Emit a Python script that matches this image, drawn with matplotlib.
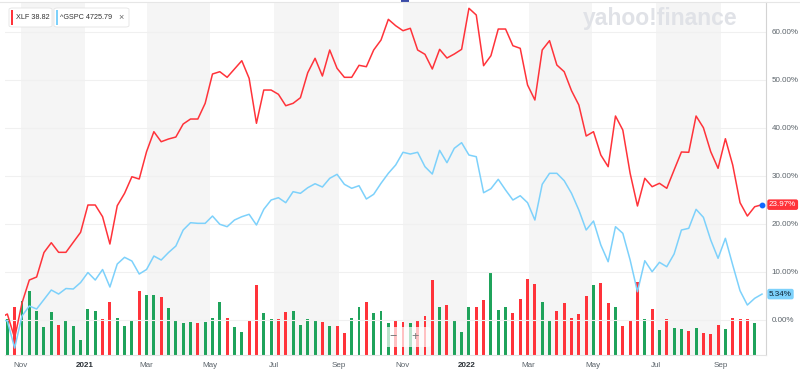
import matplotlib.pyplot as plt
import pandas as pd
from matplotlib.patches import Rectangle, FancyBboxPatch
from matplotlib.lines import Line2D

plt.rcParams['font.family'] = ['Liberation Sans', 'DejaVu Sans']

# weekly data, % change since start
dates = pd.date_range('2020-10-12', periods=105, freq='7D')

xlf_pct = [0.35, 1.19, -3.81, 3.48, 8.27, 8.90, 14.0, 16.04, 14.04, 14.04,
           16.13, 18.21, 23.90, 23.90, 21.46, 15.77, 23.75, 26.33, 29.79, 29.31,
           35.0, 39.17, 37.08, 37.65, 38.06, 40.77, 41.81, 41.81, 45.08, 51.19,
           51.67, 50.5, 52.23, 53.96, 50.29, 40.92, 47.85, 47.85, 46.96, 44.58,
           45.08, 46.25, 51.46, 54.46, 50.77, 56.19, 52.38, 50.5, 50.5, 53.0,
           52.71, 56.19, 58.27, 62.58, 61.25, 60.21, 60.71, 56.19, 55.29, 52.23,
           56.33, 54.52, 55.35, 56.33, 64.88, 63.48, 52.92, 55.0, 60.56, 60.56,
           57.08, 56.54, 48.9, 45.77, 56.19, 58.13, 53.06, 51.67, 47.71, 44.73,
           38.27, 39.17, 34.31, 31.88, 42.44, 39.52, 30.5, 23.69, 29.46, 27.71,
           28.42, 27.38, 31.19, 34.94, 34.88, 42.44, 40.0, 35.0, 31.54, 37.71,
           32.23, 24.38, 21.6, 23.54, 23.97]

gspc_pct = [0.15, -0.27, -5.9, 0.77, 2.85, 2.23, 4.21, 6.19, 5.35, 6.5,
            6.4, 7.75, 9.83, 8.27, 10.46, 6.81, 11.6, 13.0, 12.23, 9.52,
            10.46, 13.27, 12.44, 14.0, 15.35, 18.69, 20.21, 20.08, 20.08, 21.6,
            19.88, 19.38, 20.77, 21.46, 21.96, 19.73, 23.0, 24.94, 25.42, 24.38,
            26.67, 26.33, 27.5, 28.33, 27.65, 29.46, 30.29, 28.21, 27.38, 27.92,
            25.15, 26.13, 28.42, 30.5, 32.23, 34.88, 34.52, 34.88, 31.88, 30.35,
            35.29, 32.71, 35.71, 36.88, 34.31, 33.96, 26.46, 27.29, 29.25, 27.02,
            24.94, 25.83, 24.38, 20.77, 28.21, 30.5, 30.5, 28.96, 26.33, 22.85,
            18.69, 20.56, 15.56, 12.08, 19.38, 18.0, 12.44, 5.83, 12.29, 10.0,
            11.96, 11.04, 13.69, 18.69, 19.04, 23.0, 21.33, 16.6, 12.79, 16.96,
            11.4, 6.04, 3.06, 4.46, 5.34]

# XLF weekly volume (M shares), up/down week
xlf_volume = [0, 216, 288, 324, 384, 264, 168, 258, 180, 210,
              174, 90, 276, 264, 216, 318, 222, 174, 210, 384,
              360, 360, 348, 282, 210, 192, 198, 192, 198, 222,
              318, 222, 168, 138, 204, 420, 252, 216, 216, 258,
              264, 180, 216, 204, 198, 174, 174, 132, 222, 288,
              318, 252, 264, 192, 204, 198, 192, 210, 234, 450,
              288, 300, 210, 138, 288, 288, 330, 492, 270, 288,
              252, 336, 456, 426, 318, 210, 264, 312, 222, 246,
              354, 420, 432, 312, 288, 174, 204, 438, 216, 276,
              150, 216, 162, 156, 144, 162, 132, 126, 180, 156,
              222, 216, 216, 192, 0]
up_down = ('ggrgggggrg' 'ggggrrgggr' 'ggrggggrgg' 'grggrrggrr' 'ggggrgrrgg'
           'rgggrrgrrr' 'grgggrrggg' 'rrrrggrrrr' 'rgrrgrrrgr' 'grggrgrrrg' 'rrrgg')

tick_dates = ['2020-11-01', '2021-01-01', '2021-03-01', '2021-05-01', '2021-07-01',
              '2021-09-01', '2021-11-01', '2022-01-01', '2022-03-01', '2022-05-01',
              '2022-07-01', '2022-09-01']
tick_labels = ['Nov', '2021', 'Mar', 'May', 'Jul', 'Sep', 'Nov', '2022', 'Mar', 'May', 'Jul', 'Sep']
band_starts = ['2020-11-01', '2021-03-01', '2021-07-01', '2021-11-01', '2022-03-01', '2022-07-01']
band_ends = ['2021-01-01', '2021-05-01', '2021-09-01', '2022-01-01', '2022-05-01', '2022-09-01']

RED = '#ff333a'
BLUE = '#7dd1fb'
GREEN = '#1fa35b'

W, H = 800, 374
fig = plt.figure(figsize=(8, 3.74), dpi=100)
rect = [4.5 / W, (H - 355) / H, (766 - 4.5) / W, (355 - 2) / H]

# bottom axes: bands + volume
axv = fig.add_axes(rect)
# top axes: price lines
ax = fig.add_axes(rect, sharex=axv)
ax.patch.set_visible(False)

x0 = dates[0] + pd.Timedelta(days=4.3)
x1 = dates[0] + pd.Timedelta(days=731.8)
axv.set_xlim(x0, x1)

for s, e in zip(band_starts, band_ends):
    axv.axvspan(pd.Timestamp(s), pd.Timestamp(e), color='#f5f5f5', lw=0, zorder=0)

bar_colors = [GREEN if c == 'g' else RED for c in up_down]
axv.bar(dates, xlf_volume, width=2.8, color=bar_colors, zorder=2)
axv.set_ylim(0, 353 * 6)
axv.axis('off')

ax.plot(dates, gspc_pct, color=BLUE, lw=1.1, zorder=3)
ax.plot(dates, xlf_pct, color=RED, lw=1.1, zorder=3)
ax.plot(dates[-1], xlf_pct[-1], 'o', ms=3.2, color='#1167ff', zorder=4, clip_on=False)
ax.set_ylim(-7.35, 66.19)

ax.grid(axis='y', color='#f0f0f0', lw=0.8)
ax.set_axisbelow(True)
ax.yaxis.tick_right()
ax.set_yticks(range(0, 70, 10))
ax.set_yticklabels([f'{v:.2f}%' for v in range(0, 70, 10)])
ax.set_xticks(pd.to_datetime(tick_dates))
ax.set_xticklabels(tick_labels)
ax.tick_params(axis='both', length=0, labelsize=5.8, colors='#5b636a')
ax.tick_params(axis='x', pad=5)
ax.tick_params(axis='y', pad=4)
for lbl in ax.get_xticklabels():
    if lbl.get_text().isdigit():
        lbl.set_fontweight('bold')
        lbl.set_color('#2b3137')

ax.spines['left'].set_visible(False)
ax.spines['right'].set_color('#d3d3d3')
ax.spines['bottom'].set_color('#e3e3e3')
ax.spines['top'].set_visible(False)
fig.add_artist(Line2D([0, 1], [1 - 2 / H, 1 - 2 / H], color='#e6e6e6', lw=0.8))

# value tags on right axis
ax.annotate(f'{xlf_pct[-1]:.2f}%', xy=(1, xlf_pct[-1]), xycoords=('axes fraction', 'data'),
            xytext=(2.2, 0), textcoords='offset points', ha='left', va='center',
            fontsize=5.8, color='white', annotation_clip=False,
            bbox=dict(boxstyle='round,pad=0.22,rounding_size=0.25', fc=RED, ec='none'))
ax.annotate(f'{gspc_pct[-1]:.2f}%', xy=(1, gspc_pct[-1]), xycoords=('axes fraction', 'data'),
            xytext=(2.2, 0), textcoords='offset points', ha='left', va='center',
            fontsize=5.8, color='#0d2233', annotation_clip=False,
            bbox=dict(boxstyle='round,pad=0.22,rounding_size=0.25', fc=BLUE, ec='none'))


def px(x, y):
    return x / W, 1 - y / H


# legend chips
for (bx, bw, col, label) in [(9, 43, RED, 'XLF 38.82'), (54, 75, BLUE, '^GSPC 4725.79')]:
    fig.patches.append(FancyBboxPatch(px(bx, 27), bw / W, 19 / H, boxstyle='round,pad=0,rounding_size=0.004',
                                      transform=fig.transFigure, fc='white', ec='#e4e4e4', lw=0.6))
    fig.patches.append(Rectangle(px(bx + 1.5, 25), 2.5 / W, 15 / H, transform=fig.transFigure,
                                 fc=col, ec='none'))
    fig.text(*px(bx + 6.5, 17.5), label, va='center', ha='left', fontsize=5.2, color='#333')
fig.text(*px(121, 17.5), '×', va='center', ha='center', fontsize=6.5, color='#666')

# watermark
fig.text(*px(660, 19), 'yahoo!finance', ha='center', va='center', fontsize=16.5,
         fontweight='bold', color='#e0e2e7')

# zoom control
fig.patches.append(FancyBboxPatch(px(383, 347), 48 / W, 20 / H, boxstyle='round,pad=0,rounding_size=0.005',
                                  transform=fig.transFigure, fc='white', ec='none', alpha=0.7))
fig.text(*px(393, 337), '−', ha='center', va='center', fontsize=9, color='#777')
fig.text(*px(415, 337), '+', ha='center', va='center', fontsize=9, color='#777')
fig.patches.append(Rectangle(px(401, 3), 8 / W, 3 / H, transform=fig.transFigure, fc='#3a4ba8', ec='none'))

fig.savefig('out.png', dpi=100)
